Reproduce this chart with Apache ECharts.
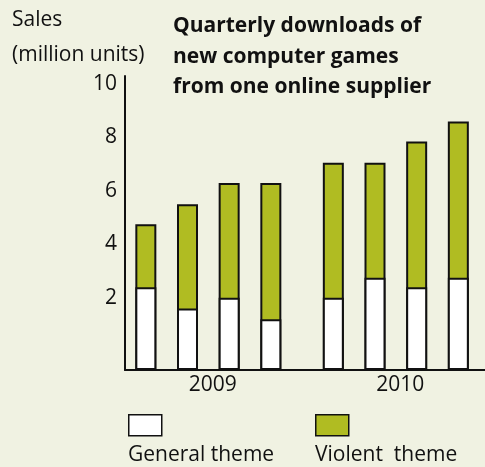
<!DOCTYPE html>
<html><head><meta charset="utf-8">
<script src="https://cdn.jsdelivr.net/npm/echarts@6/dist/echarts.min.js"></script>
<style>html,body{margin:0;padding:0;background:#f0f2e2}#c{width:485px;height:467px}</style>
</head><body><div id="c"></div>
<script>
// ---- data ----
const years = ['2009', '2010'];
const quarters = ['Q1', 'Q2', 'Q3', 'Q4'];
const general = [2.4, 1.6, 2.0, 1.2, 2.0, 2.75, 2.4, 2.75];
const violent = [2.35, 3.9, 4.3, 5.1, 5.05, 4.3, 5.45, 5.85];
const yTicks = [2, 4, 6, 8, 10];
const seriesNames = ['General theme', 'Violent  theme'];
const titleLines = ['Quarterly downloads of', 'new computer games', 'from one online supplier'];
const yTitleLines = ['Sales', '(million units)'];

// ---- layout helpers ----
const GAP = 0.5;
const nq = quarters.length;
const xOf = i => Math.floor(i / nq) * (nq + GAP) + (i % nq);
const yearCenters = years.map((y, k) => k * (nq + GAP) + (nq - 1) / 2);
const totals = general.map((g, i) => g + violent[i]); // stacked top of each column
const FONT = 'Open Sans';
const INK = '#111';
const GREEN = '#b0bc22';

const chart = echarts.init(document.getElementById('c'));
chart.setOption({
  backgroundColor: '#f0f2e2',
  animation: false,
  textStyle: { fontFamily: FONT },
  title: [
    { text: yTitleLines.join('\n'), left: 12, top: 3, padding: 0,
      textStyle: { fontFamily: FONT, fontSize: 21, fontWeight: 'normal', color: INK, lineHeight: 35 } },
    { text: titleLines.join('\n'), left: 173, top: 11, padding: 0,
      textStyle: { fontFamily: FONT, fontSize: 21, fontWeight: 'bold', color: INK, lineHeight: 30.5 } }
  ],
  grid: { left: 125, right: 0, top: 76, bottom: 97, containLabel: false },
  xAxis: {
    type: 'value', min: -0.5, max: 8.14,
    splitLine: { show: false }, axisTick: { show: false },
    axisLine: { show: true, onZero: false, lineStyle: { color: INK, width: 2 } },
    axisLabel: {
      customValues: yearCenters,
      formatter: v => years[Math.round((v - (nq - 1) / 2) / (nq + GAP))],
      fontFamily: FONT, fontSize: 21, color: INK, margin: 5, padding: [0, 0, 0, 9]
    }
  },
  yAxis: {
    type: 'value', min: -0.7, max: 10.3, startValue: -0.7,
    splitLine: { show: false }, axisTick: { show: false },
    axisLine: { show: true, onZero: false, lineStyle: { color: INK, width: 2 } },
    axisLabel: { customValues: yTicks, fontFamily: FONT, fontSize: 21, color: INK, margin: 8 }
  },
  legend: [
    { data: [seriesNames[0]], left: 128, top: 414, padding: 0, itemWidth: 33, itemHeight: 21,
      icon: 'rect', selectedMode: false, formatter: () => '',
      itemStyle: { color: '#ffffff', borderColor: INK, borderWidth: 1.5, borderType: 'solid' } },
    { data: [seriesNames[1]], left: 315, top: 414, padding: 0, itemWidth: 33, itemHeight: 21,
      icon: 'rect', selectedMode: false, formatter: () => '',
      itemStyle: { color: GREEN, borderColor: INK, borderWidth: 1.5, borderType: 'solid' } }
  ],
  graphic: [
    { type: 'text', left: 128, top: 445, style: { text: seriesNames[0], font: '21px "Open Sans"', fill: INK } },
    { type: 'text', left: 315, top: 445, style: { text: seriesNames[1], font: '21px "Open Sans"', fill: INK } }
  ],
  series: [
    { name: seriesNames[1], type: 'bar', barWidth: 21, barGap: '-100%', z: 2,
      data: totals.map((v, i) => [xOf(i), v]),
      itemStyle: { color: GREEN, borderColor: INK, borderWidth: 2 } },
    { name: seriesNames[0], type: 'bar', barWidth: 21, barGap: '-100%', z: 3,
      data: general.map((v, i) => [xOf(i), v]),
      itemStyle: { color: '#ffffff', borderColor: INK, borderWidth: 2 } }
  ]
});
</script></body></html>
